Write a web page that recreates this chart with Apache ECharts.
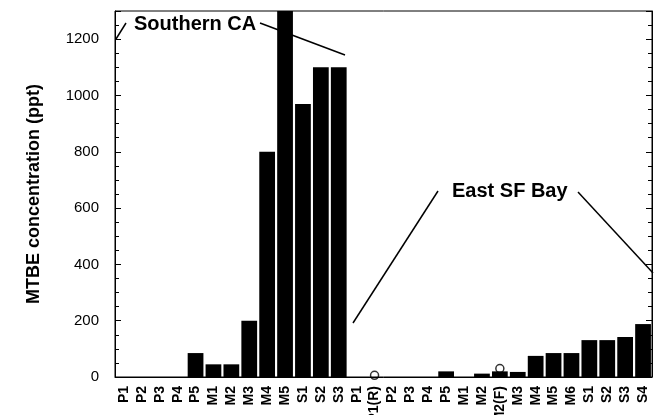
<!DOCTYPE html>
<html>
<head>
<meta charset="utf-8">
<script src="https://cdn.jsdelivr.net/npm/echarts@6/dist/echarts.min.js"></script>
<style>
html,body{margin:0;padding:0;background:#fff;}
#c{width:659px;height:415px;}
</style>
</head>
<body>
<div id="c"></div>
<script>
const categories = [
  'P1','P2','P3','P4','P5','M1','M2','M3','M4','M5','S1','S2','S3',
  'P1','P1(R)','P2','P3','P4','P5','M1','M2','M2(F)','M3','M4','M5','M6','S1','S2','S3','S4'
];
const mtbeValues = [
  0, 0, 0, 0, 85, 45, 45, 200, 800, 1300, 970, 1100, 1100,
  0, 0, 0, 0, 0, 20, 0, 12, 20, 18, 75, 85, 85, 131, 131, 142, 188
];
// open-circle markers (category index, value)
const circleMarks = [[14, 6], [21, 30]];
const yTicks = { min: 0, max: 1300, interval: 200 };

const chart = echarts.init(document.getElementById('c'), null, {renderer: 'canvas'});
const font = 'Liberation Sans, Arial, Helvetica, sans-serif';
chart.setOption({
  animation: false,
  backgroundColor: '#fff',
  grid: { left: 115, right: 7, top: 11, bottom: 38, show: true, borderColor: '#000', borderWidth: 1,
          containLabel: false, outerBoundsMode: 'none' },
  xAxis: {
    type: 'category',
    data: categories,
    axisLine: { lineStyle: { color: '#000', width: 1 } },
    axisTick: { show: false },
    axisLabel: { rotate: 90, interval: 0, margin: 9, color: '#000', fontFamily: font, fontWeight: 'bold', fontSize: 14 }
  },
  yAxis: [{
    type: 'value',
    min: yTicks.min, max: yTicks.max, interval: yTicks.interval,
    name: 'MTBE concentration (ppt)',
    nameLocation: 'middle',
    nameGap: 72,
    nameTextStyle: { color: '#000', fontFamily: font, fontWeight: 'bold', fontSize: 18 },
    axisLine: { show: true, lineStyle: { color: '#000' } },
    axisTick: { show: true, inside: true, length: 6, lineStyle: { color: '#000' } },
    minorTick: { show: true, splitNumber: 4, length: 4, lineStyle: { color: '#000' } },
    splitLine: { show: false },
    axisLabel: { margin: 16, color: '#000', fontFamily: font, fontSize: 15,
      formatter: v => (v % 200 === 0 ? String(v) : '') }
  }, {
    type: 'value',
    position: 'right',
    min: yTicks.min, max: yTicks.max, interval: yTicks.interval,
    axisLine: { show: true, lineStyle: { color: '#000' } },
    axisTick: { show: true, inside: true, length: 6, lineStyle: { color: '#000' } },
    minorTick: { show: true, splitNumber: 4, length: 4, lineStyle: { color: '#000' } },
    splitLine: { show: false },
    axisLabel: { show: false }
  }],
  series: [{
    type: 'bar',
    data: mtbeValues,
    barCategoryGap: '12%',
    itemStyle: { color: '#000' },
    clip: true
  }, {
    type: 'scatter',
    data: circleMarks,
    symbol: 'circle',
    symbolSize: 8,
    itemStyle: { color: 'transparent', borderColor: '#000', borderWidth: 1.5 },
    z: 5
  }],
  graphic: [
    { type: 'text', left: 134, top: 14, style: { text: 'Southern CA', font: 'bold 20px ' + font, fill: '#000' }, z: 10 },
    { type: 'line', shape: { x1: 116, y1: 39, x2: 126, y2: 23 }, style: { stroke: '#000', lineWidth: 1.5 }, z: 10 },
    { type: 'line', shape: { x1: 260, y1: 23, x2: 345, y2: 55 }, style: { stroke: '#000', lineWidth: 1.5 }, z: 10 },
    { type: 'text', left: 452, top: 181, style: { text: 'East SF Bay', font: 'bold 20px ' + font, fill: '#000' }, z: 10 },
    { type: 'line', shape: { x1: 438, y1: 191, x2: 353, y2: 323 }, style: { stroke: '#000', lineWidth: 1.5 }, z: 10 },
    { type: 'line', shape: { x1: 578, y1: 192, x2: 653, y2: 273 }, style: { stroke: '#000', lineWidth: 1.5 }, z: 10 }
  ]
});
</script>
</body>
</html>
